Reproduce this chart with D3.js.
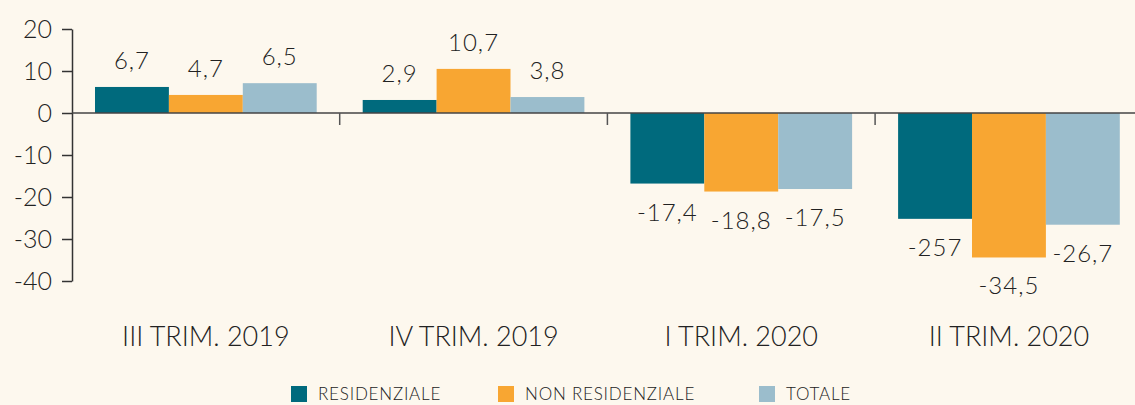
<!DOCTYPE html>
<html lang="it">
<head>
  <meta charset="UTF-8">
  <title>Compravendite</title>
  <script src="https://cdn.jsdelivr.net/npm/d3@7"></script>
</head>
<style>
  html, body {
    margin: 0;
    padding: 0;
    background: #fdf8ee;
  }
  svg {
    display: block;
    font-family: Lato, "Noto Sans", sans-serif;
    font-weight: 300;
  }
  text {
    fill: #222;
  }
</style>
<body>
<svg width="1135" height="405"></svg>
<script>
  // dati
  const categories = ['III TRIM. 2019', 'IV TRIM. 2019', 'I TRIM. 2020', 'II TRIM. 2020'];
  const seriesNames = ['RESIDENZIALE', 'NON RESIDENZIALE', 'TOTALE'];
  const residenziale = [6.2, 3.1, -16.8, -25.2];
  const nonResidenziale = [4.3, 10.5, -18.7, -34.4];
  const totale = [7.1, 3.8, -18.1, -26.6];
  const residenzialeLabels = ['6,7', '2,9', '-17,4', '-257'];
  const nonResidenzialeLabels = ['4,7', '10,7', '-18,8', '-34,5'];
  const totaleLabels = ['6,5', '3,8', '-17,5', '-26,7'];
  const yTicks = [20, 10, 0, -10, -20, -30, -40];
  const colors = ['#006a7d', '#f8a632', '#9bbdcc'];

  const W = 1135;
  const svg = d3.select('svg');

  const bandW = 267.7;
  const left = 72;
  const x = d3.scaleBand()
    .domain(categories)
    .range([left, left + bandW * categories.length]);
  const x1 = d3.scaleBand()
    .domain(seriesNames)
    .range([23, bandW - 23]);
  const y = d3.scaleLinear().domain([-40, 20]).range([281, 29]);

  const allValues = [residenziale, nonResidenziale, totale];
  const allLabels = [residenzialeLabels, nonResidenzialeLabels, totaleLabels];

  const rows = [];
  seriesNames.forEach((s, si) => {
    categories.forEach((c, ci) => {
      rows.push({ s: s, si: si, c: c, v: allValues[si][ci], label: allLabels[si][ci] });
    });
  });

  // barre
  svg.append('g').selectAll('rect').data(rows).enter().append('rect')
    .attr('x', d => x(d.c) + x1(d.s))
    .attr('width', x1.bandwidth())
    .attr('y', d => y(Math.max(0, d.v)))
    .attr('height', d => Math.abs(y(d.v) - y(0)))
    .style('fill', d => colors[d.si]);

  // etichette valori
  svg.append('g').selectAll('text').data(rows).enter().append('text')
    .attr('x', d => x(d.c) + x1(d.s) + x1.bandwidth() / 2)
    .attr('y', d => d.v >= 0 ? y(d.v) - 18 : y(d.v) + 37)
    .attr('text-anchor', 'middle')
    .style('font-size', '24px')
    .style('letter-spacing', '1px')
    .text(d => d.label);

  // asse y
  const yAxis = svg.append('g')
    .attr('transform', `translate(${left},0)`)
    .call(d3.axisLeft(y).tickValues(yTicks).tickSize(10).tickSizeOuter(0).tickPadding(10).tickFormat(d => String(d)));
  yAxis.attr('font-family', null).attr('font-size', null);
  yAxis.selectAll('text').style('font-size', '25px').attr('fill', '#222');
  yAxis.selectAll('line, path').attr('stroke', '#333').attr('stroke-width', 1.5);

  // asse x
  const xAxis = svg.append('g');
  xAxis.append('line')
    .attr('x1', left).attr('x2', W)
    .attr('y1', y(0)).attr('y2', y(0))
    .attr('stroke', '#444').attr('stroke-width', 1.5);
  xAxis.selectAll('.tick').data(categories.slice(1)).enter().append('line')
    .attr('x1', d => x(d)).attr('x2', d => x(d))
    .attr('y1', y(0)).attr('y2', y(0) + 12)
    .attr('stroke', '#555').attr('stroke-width', 1.5);
  xAxis.selectAll('text').data(categories).enter().append('text')
    .attr('x', d => x(d) + x.bandwidth() / 2)
    .attr('y', 346)
    .attr('text-anchor', 'middle')
    .style('font-size', '27px')
    .text(d => d);

  // legenda
  const legendX = [291, 498, 759];
  const legend = svg.append('g').selectAll('g').data(seriesNames).enter().append('g')
    .attr('transform', (d, i) => `translate(${legendX[i]},386)`);
  legend.append('rect')
    .attr('width', 16).attr('height', 16)
    .style('fill', (d, i) => colors[i]);
  legend.append('text')
    .attr('x', 27).attr('y', 14)
    .style('font-size', '17px')
    .style('letter-spacing', '0.8px')
    .text(d => d);
</script>
</body>
</html>
